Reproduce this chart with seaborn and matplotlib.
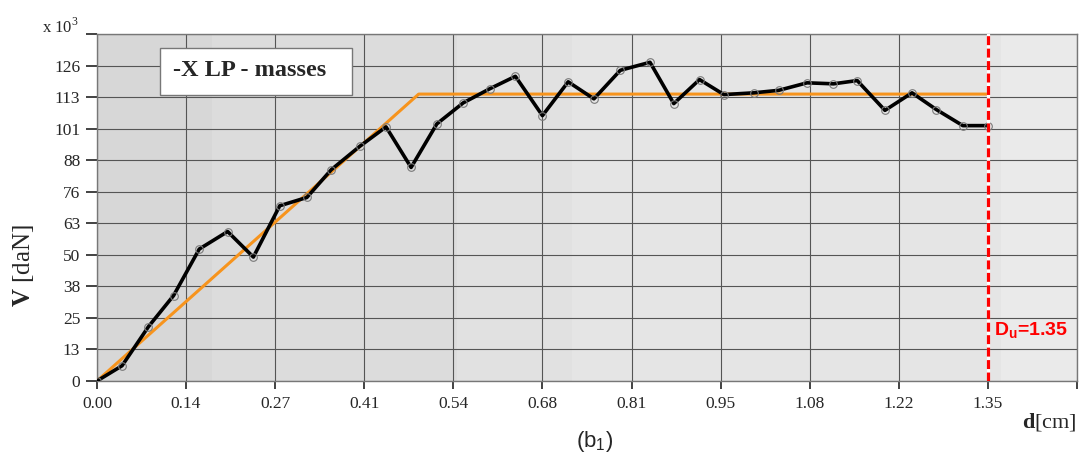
"""Pushover curve -X LP - masses, with bilinear idealisation."""
import seaborn as sns

from matplotlib import pyplot as plt
from matplotlib.patches import Rectangle


# capacity curve (d in cm, V in 10^3 daN)
d_cm = [0.0, 0.038, 0.078, 0.116, 0.155, 0.198, 0.237, 0.277, 0.318, 0.355,
        0.398, 0.438, 0.476, 0.515, 0.555, 0.595, 0.634, 0.675, 0.714, 0.753,
        0.793, 0.838, 0.874, 0.913, 0.950, 0.995, 1.033, 1.076, 1.116, 1.152,
        1.194, 1.235, 1.272, 1.312, 1.35]
v_kdan = [0.0, 6.1, 21.7, 34.1, 52.7, 59.7, 49.5, 70.0, 73.3, 84.4,
          93.7, 101.5, 85.3, 102.7, 111.1, 116.7, 121.7, 106.0, 119.5, 112.7,
          124.1, 127.3, 110.8, 120.4, 114.4, 115.1, 116.1, 119.1, 118.7, 120.0,
          108.1, 115.1, 108.4, 102.0, 102.0]

# bilinear equivalent
bilin_d = [0.0, 0.4875, 1.35]
bilin_v = [0.0, 114.6, 114.6]

du = 1.35

x_ticks = [0.0, 0.135, 0.27, 0.405, 0.54, 0.675, 0.81, 0.945, 1.08, 1.215,
           1.35, 1.485]
x_labels = ["0.00", "0.14", "0.27", "0.41", "0.54", "0.68", "0.81", "0.95",
            "1.08", "1.22", "1.35", ""]
y_ticks = [0.0, 12.6, 25.2, 37.8, 50.4, 63.0, 75.6, 88.2, 100.8, 113.4,
           126.0, 138.6]
y_labels = ["0", "13", "25", "38", "50", "63", "76", "88", "101", "113",
            "126", ""]

# shaded background bands (from, to, colour)
bands = [(0.0, 0.175, "#d7d7d7"), (0.175, 0.545, "#dcdcdc"),
         (0.545, 0.72, "#e1e1e1"), (0.72, 1.37, "#e5e5e5"),
         (1.37, 1.485, "#eaeaea")]

sns.set_style("white")
plt.rcParams["font.family"] = ["Liberation Serif", "DejaVu Serif"]
plt.rcParams["mathtext.fontset"] = "custom"
plt.rcParams["mathtext.rm"] = "Liberation Serif"
plt.rcParams["mathtext.bf"] = "Liberation Serif:bold"
plt.rcParams["mathtext.sf"] = "Liberation Sans:bold"
plt.rcParams["mathtext.tt"] = "Liberation Sans"

fig = plt.figure(figsize=(10.81, 4.57), dpi=100)
ax = fig.add_axes([0.0897, 0.1663, 0.9066, 0.7593])

for x0, x1, col in bands:
    ax.axvspan(x0, x1, color=col, lw=0, zorder=0)

ax.set_xlim(0, 1.485)
ax.set_ylim(0, 138.6)
ax.set_xticks(x_ticks)
ax.set_xticklabels(x_labels)
ax.set_yticks(y_ticks)
ax.set_yticklabels(y_labels)
ax.set_axisbelow(True)
ax.grid(True, color="#555555", lw=0.8)

sns.lineplot(x=bilin_d, y=bilin_v, color="#f7941d", lw=2.2, ax=ax,
             zorder=3)
sns.lineplot(x=d_cm, y=v_kdan, color="black", lw=2.6, marker="o",
             markersize=5.5, markerfacecolor="none",
             markeredgecolor="#7a7a7a", markeredgewidth=0.8, ax=ax,
             zorder=4)
# dashed ultimate displacement line, white showing through the gaps
ax.axvline(du, color="white", lw=2.3, zorder=5)
ax.axvline(du, color="#ff0000", lw=2.3, ls=(0, (2.8, 1.1)), zorder=5.5)

ax.tick_params(axis="y", direction="out", length=8, width=1.2, pad=4,
               labelsize=12.5, color="#222222", left=True)
ax.tick_params(axis="x", direction="out", length=6, width=1.2, pad=5,
               labelsize=12.5, color="#222222", bottom=True)
for sp in ax.spines.values():
    sp.set_color("#777777")
    sp.set_linewidth(1.0)

# title box
ax.add_patch(Rectangle((0.0643, 0.8242), 0.1959, 0.1355,
                       transform=ax.transAxes, fc="white", ec="#777777",
                       lw=1.0, zorder=6))
ax.text(0.1556, 0.8934, "-X LP - masses", transform=ax.transAxes,
        fontsize=17.5, fontweight="bold", ha="center", va="center",
        zorder=7)
ax.text(1.359, 20.4, r"$\mathsf{D_u}$=1.35", color="#ff0000", fontsize=14,
        fontweight="bold", family=["Liberation Sans"], ha="left",
        va="center", zorder=6)

fig.text(42 / 1081, 1 - 27 / 457, r"x 10$^3$", fontsize=12, ha="left",
         va="center")
fig.text(24 / 1081, 1 - 266 / 457, r"$\mathbf{V}$ [daN]", fontsize=18,
         rotation=90, ha="center", va="center")
fig.text(1077 / 1081, 1 - 422 / 457, r"$\mathbf{d}$[cm]", fontsize=16,
         ha="right", va="center")
fig.text(595 / 1081, 1 - 441 / 457, r"$\mathtt{(b_1)}$", fontsize=16,
         ha="center", va="center")

plt.savefig("out.png", dpi=100, facecolor="w")
plt.close("all")
